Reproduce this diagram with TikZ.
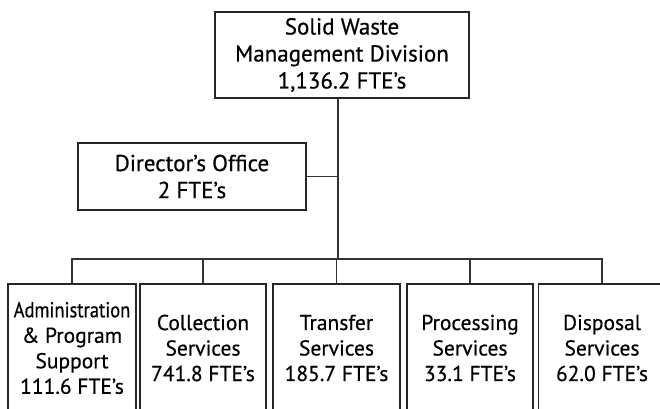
\documentclass[tikz,border=0pt]{standalone}
\usepackage{fontspec}
\setmainfont{PT Sans}[FakeBold=0.5]
\begin{document}
\begin{tikzpicture}[x=1pt,y=-1pt,
  unit/.style={draw=black!85,line width=1.1pt,align=center,inner sep=0pt,
    font=\fontsize{21.5}{25.5}\selectfont},
  head/.style={unit,font=\fontsize{23}{27}\selectfont},
  link/.style={draw=black!80,line width=1.1pt}]
\useasboundingbox (0,0) rectangle (660,408);
% division head and director's office
\node[head,minimum width=254pt,minimum height=86pt] (swm) at (342,55)
  {Solid Waste\\Management Division\\1,136.2 FTE's};
\node[head,minimum width=228pt,minimum height=67pt] (dir) at (192,176.5)
  {Director's Office\\2 FTE's};
% service units
\node[unit,minimum width=128pt,minimum height=128pt] (adm) at (72,348)
  {\scalebox{0.86}[1]{Administration}\\\& Program\\Support\\111.6 FTE's};
\node[unit,minimum width=126pt,minimum height=128pt] (col) at (203,348)
  {Collection\\Services\\741.8 FTE's};
\node[unit,minimum width=127pt,minimum height=128pt] (trn) at (336.5,348)
  {Transfer\\Services\\185.7 FTE's};
\node[unit,minimum width=126pt,minimum height=128pt] (prc) at (470,348)
  {Processing\\Services\\33.1 FTE's};
\node[unit,minimum width=127pt,minimum height=128pt] (dsp) at (602,348)
  {Disposal\\Services\\62.0 FTE's};
% connectors
\coordinate (bus) at (338,259);
\draw[link] (swm.south -| bus) -- (bus);
\draw[link] (dir.east) -- (dir.east -| bus);
\draw[link] (adm.north) |- (bus) -| (dsp.north);
\draw[link] (col.north) -- (col.north |- bus);
\draw[link] (trn.north) -- (trn.north |- bus);
\draw[link] (prc.north) -- (prc.north |- bus);
\end{tikzpicture}
\end{document}
